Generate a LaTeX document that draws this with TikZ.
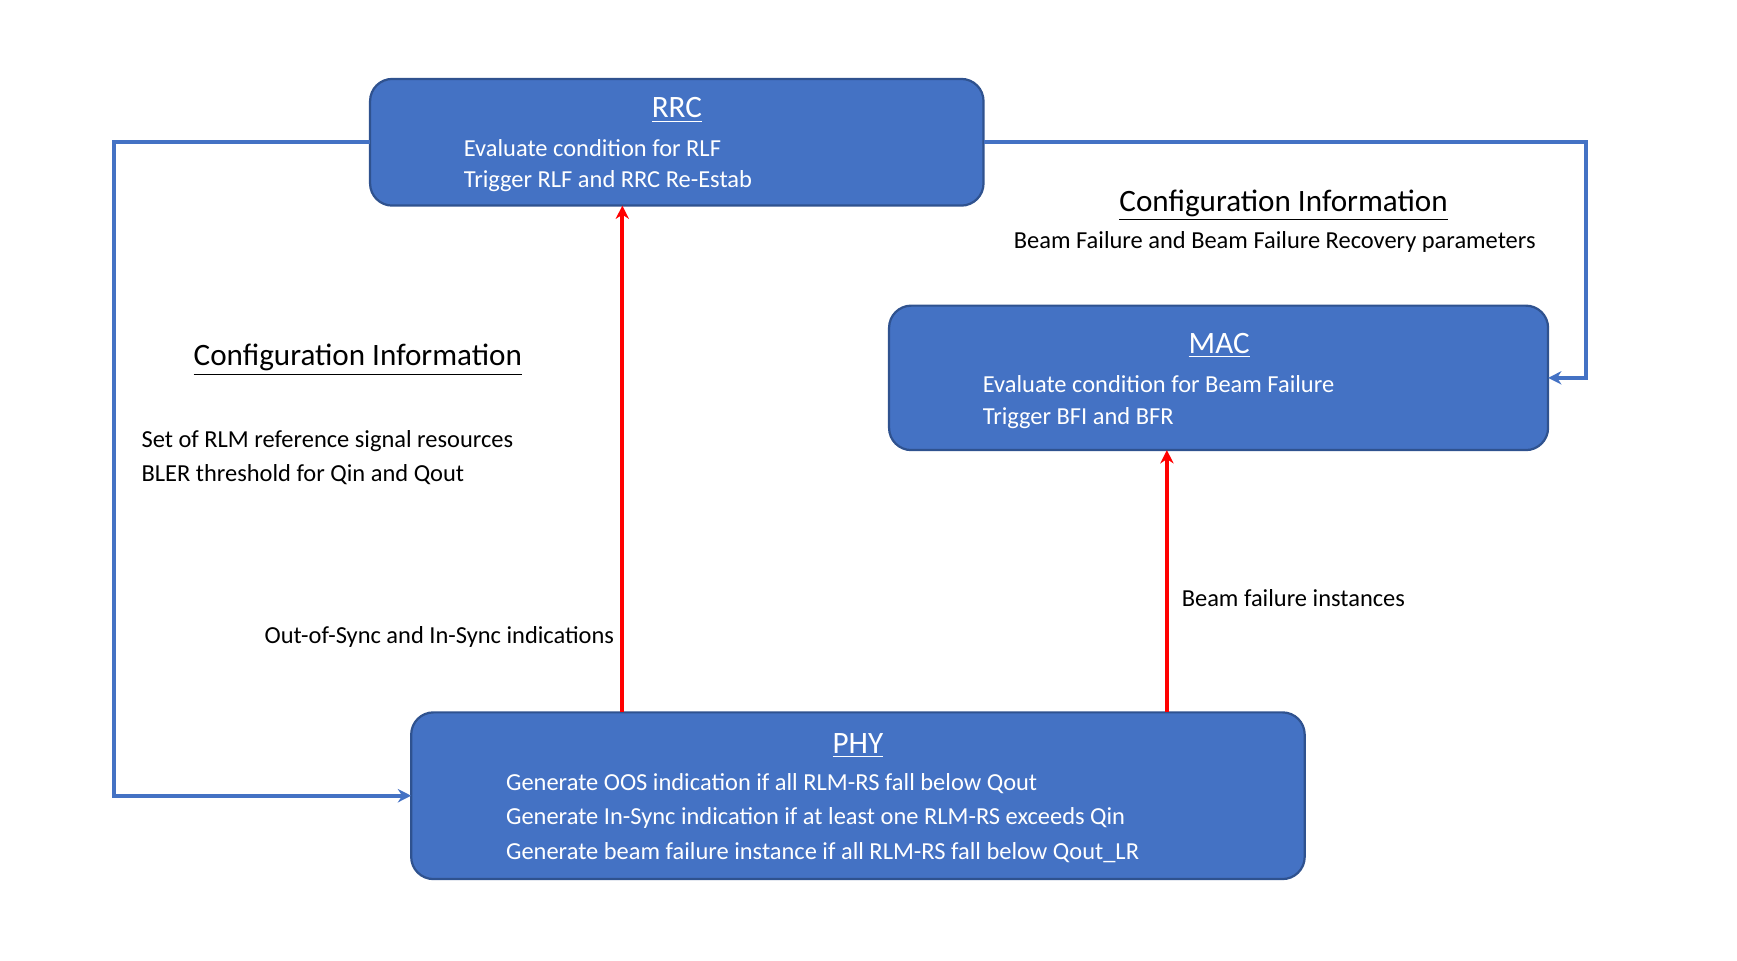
\documentclass[tikz,border=0pt]{standalone}
\usepackage{fontspec}
\setmainfont{Carlito}
\usetikzlibrary{arrows.meta}
\definecolor{bfill}{HTML}{4472C4}
\definecolor{bdraw}{HTML}{2F528F}
\begin{document}
\begin{tikzpicture}[x=0.5pt,y=-0.5pt,
 box/.style={fill=bfill,draw=bdraw,line width=1pt,rounded corners=10pt},
 wt/.style={text=white,font=\fontsize{11}{13}\selectfont,anchor=west,inner sep=0},
 bt/.style={text=black,font=\fontsize{11}{13}\selectfont,inner sep=0},
 ttl/.style={text=white,font=\fontsize{14}{16}\selectfont,inner sep=0},
 hdr/.style={text=black,font=\fontsize{14}{16}\selectfont,inner sep=0},
 bl/.style={draw=bfill,line width=1.8pt,-{Stealth[length=6pt,width=6pt]}},
 rd/.style={draw=red,line width=1.8pt,-{Stealth[length=6pt,width=6pt]}}]
\useasboundingbox (0,0) rectangle (1563,864);
\draw[box] (333,71) rectangle (885,185);
\draw[box] (800,275) rectangle (1393,405);
\draw[box] (370,641) rectangle (1174,791);
\coordinate (rrcL) at (333,128); \coordinate (rrcR) at (885,128);
\coordinate (macR) at (1393,340); \coordinate (phyL) at (370,716);
\draw[bl] (rrcL) -- (103,128) -- (103,716) -- (phyL);
\draw[bl] (rrcR) -- (1427,128) -- (1427,340) -- (macR);
\draw[rd] (560,641) -- (560,185);
\draw[rd] (1050,641) -- (1050,405);
\node[ttl] (t1) at (609,99) {\underline{RRC}};
\node[wt] (a1) at (417,133) {Evaluate condition for RLF};
\node[wt] (a2) at (417,163) {Trigger RLF and RRC Re-Estab};
\node[ttl] (t2) at (1097,311) {\underline{MAC}};
\node[wt] (b1) at (884,346) {Evaluate condition for Beam Failure};
\node[wt] (b2) at (884,376) {Trigger BFI and BFR};
\node[ttl] (t3) at (772,671) {\underline{PHY}};
\node[wt] (c1) at (455,705) {Generate OOS indication if all RLM-RS fall below Qout};
\node[wt] (c2) at (455,736) {Generate In-Sync indication if at least one RLM-RS exceeds Qin};
\node[wt] (c3) at (455,767) {Generate beam failure instance if all RLM-RS fall below Qout\_LR};
\node[hdr] (h1) at (322,324) {\underline{Configuration Information}};
\node[bt,anchor=west] (d1) at (127,397) {Set of RLM reference signal resources};
\node[bt,anchor=west] (d2) at (127,427) {BLER threshold for Qin and Qout};
\node[hdr] (h2) at (1155,185) {\underline{Configuration Information}};
\node[bt] (e1) at (1147,218) {Beam Failure and Beam Failure Recovery parameters};
\node[bt,anchor=east] (f1) at (553,573) {Out-of-Sync and In-Sync indications};
\node[bt,anchor=west] (f2) at (1063,538) {Beam failure instances};
\end{tikzpicture}
\end{document}
